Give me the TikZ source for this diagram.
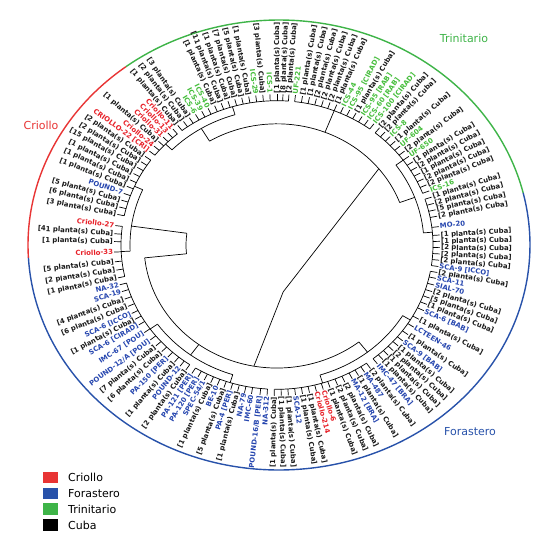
\documentclass[tikz,border=0pt]{standalone}
\usepackage{fontspec}
\newfontfamily\lblfont{DejaVu Sans}
\newfontfamily\legfont{DejaVu Sans}
\definecolor{labk}{RGB}{25,25,25}
\definecolor{labr}{RGB}{232,32,40}
\definecolor{labb}{RGB}{38,70,175}
\definecolor{labg}{RGB}{70,190,60}
\definecolor{arcr}{RGB}{232,52,52}
\definecolor{arcb}{RGB}{40,82,170}
\definecolor{arcg}{RGB}{62,180,72}
\begin{document}
\begin{tikzpicture}[x=1pt,y=1pt,
  lbl/.style={font=\lblfont\bfseries\fontsize{6.9}{7}\selectfont, inner sep=0pt},
  tree/.style={line width=0.7pt, black},
  ring/.style={line width=1.4pt},
  legtext/.style={font=\legfont\fontsize{11}{12}\selectfont, anchor=west, inner sep=0pt},
  legsq/.style={minimum width=15pt, minimum height=11.5pt, inner sep=0pt},
  grouplbl/.style={font=\legfont\fontsize{11}{12}\selectfont, inner sep=0pt}]
\useasboundingbox (0,0) rectangle (537,539);
\fill[white] (0,0) rectangle (537,539);
\def\cx{277}\def\cy{294}\def\q{0.925}
\def\ox{279}\def\oy{294}
% outer group arcs
\draw[ring,arcg] ({\ox+251*cos(13.4)},{\oy+225*sin(13.4)}) arc[start angle=13.4, end angle=127.6, x radius=251, y radius=225];
\draw[ring,arcr] ({\ox+251*cos(127.6)},{\oy+225*sin(127.6)}) arc[start angle=127.6, end angle=183.3, x radius=251, y radius=225];
\draw[ring,arcb] ({\ox+251*cos(183.3)},{\oy+225*sin(183.3)}) arc[start angle=183.3, end angle=373.4, x radius=251, y radius=225];
\node[grouplbl,text=arcr] (gcri) at (41,414) {Criollo};
\node[grouplbl,text=arcg] (gtri) at (464,501) {Trinitario};
\node[grouplbl,text=arcb] (gfor) at (470,107) {Forastero};
% labels
\foreach \a/\c/\t [count=\i] in {
90/k/[1 planta(s) Cuba],
92.5/g/ICS-1,
95/k/[3 planta(s) Cuba],
97.5/g/ICS-29,
100/k/[1 planta(s) Cuba],
102.5/k/[5 planta(s) Cuba],
105/k/[7 planta(s) Cuba],
107.5/k/[1 planta(s) Cuba],
110/k/[11 planta(s) Cuba],
112.5/k/[1 planta(s) Cuba],
115/g/ICS-40,
117.5/g/ICS-39,
120/g/ICS-6,
122.5/k/[3 planta(s) Cuba],
125/k/[2 planta(s) Cuba],
127.5/k/[1 planta(s) Cuba],
129.7/r/Criollo-11,
132/r/Criollo-13,
134.3/r/Criollo-31,
136.6/k/[1 planta(s) Cuba],
139/r/Criollo-24,
141.5/r/CRIOLLO-22 [CRI],
144/k/[2 planta(s) Cuba],
146.5/k/[2 planta(s) Cuba],
149/k/[15 planta(s) Cuba],
151.7/k/[1 planta(s) Cuba],
154.4/k/[1 planta(s) Cuba],
157.1/k/[1 planta(s) Cuba],
160/b/POUND-7,
162.7/k/[5 planta(s) Cuba],
165.4/k/[6 planta(s) Cuba],
168.3/k/[3 planta(s) Cuba],
172.6/r/Criollo-27,
175.7/k/[41 planta(s) Cuba],
178.7/k/[1 planta(s) Cuba],
182.7/r/Criollo-33,
186.4/k/[5 planta(s) Cuba],
189.6/k/[2 planta(s) Cuba],
192.6/k/[1 planta(s) Cuba],
195.3/b/NA-32,
198/b/SCA-19,
201/k/[4 planta(s) Cuba],
204/k/[6 planta(s) Cuba],
207/b/SCA-6 [ICCO],
209.5/k/[1 planta(s) Cuba],
212/b/SCA-6 [CIRAD],
215.5/b/IMC-67 [POU],
219/b/{POUND-12/A [POU]},
222/k/[7 planta(s) Cuba],
225/k/[6 planta(s) Cuba],
228/b/PA-150 [PER],
231/k/[1 planta(s) Cuba],
233.5/b/POUND-12,
236/k/[2 planta(s) Cuba],
238.5/b/PA-121 [PER],
241/b/PA-120 [PER],
243.5/b/{SPEC-54/1},
246/k/[1 planta(s) Cuba],
248.5/b/BE-10,
251/k/[5 planta(s) Cuba],
253.5/b/PA-4 [PER],
256/k/[1 planta(s) Cuba],
258.5/b/NA-79,
261/b/IMC-60,
264/b/{POUND-16/B [PER]},
266.5/b/NA-312,
269/k/[1 planta(s) Cuba],
271.5/k/[1 planta(s) Cuba],
274/k/[1 planta(s) Cuba],
276.5/b/SCA-12,
279/k/[1 planta(s) Cuba],
281.5/k/[1 planta(s) Cuba],
284/r/Criollo-214,
286.5/r/Criollo-6,
289/k/[1 planta(s) Cuba],
291.8/k/[2 planta(s) Cuba],
294.6/k/[2 planta(s) Cuba],
297.5/b/MA-12 [BRA],
300/k/[1 planta(s) Cuba],
302.5/b/MA-487,
305/k/[2 planta(s) Cuba],
308/b/IMC-47 [BRA],
310.5/k/[1 planta(s) Cuba],
313/k/[1 planta(s) Cuba],
315.5/k/[2 planta(s) Cuba],
318/k/[1 planta(s) Cuba],
320.5/b/SCA-9 [BAB],
323.5/k/[1 planta(s) Cuba],
327/b/LCTEEN-46,
330.5/k/[1 planta(s) Cuba],
334.2/b/SCA-6 [BAB],
336.8/k/[1 planta(s) Cuba],
339.4/k/[5 planta(s) Cuba],
342/k/[2 planta(s) Cuba],
344.6/b/SIAL-70,
347.2/b/SCA-11,
349.5/k/[2 planta(s) Cuba],
351.8/b/SCA-9 [ICCO],
354.2/k/[2 planta(s) Cuba],
356.6/k/[2 planta(s) Cuba],
359/k/[2 planta(s) Cuba],
1.4/k/[1 planta(s) Cuba],
3.8/k/[1 planta(s) Cuba],
7/b/MO-20,
11/k/[2 planta(s) Cuba],
13.5/k/[5 planta(s) Cuba],
16/k/[2 planta(s) Cuba],
18.5/k/[1 planta(s) Cuba],
21/g/ICS-16,
23.5/k/[2 planta(s) Cuba],
26/k/[2 planta(s) Cuba],
28.5/k/[1 planta(s) Cuba],
31/k/[2 planta(s) Cuba],
33.5/k/[1 planta(s) Cuba],
36/g/UF-650,
38.5/k/[2 planta(s) Cuba],
41/g/UF-604,
43.5/k/[1 planta(s) Cuba],
46/g/ICS-8,
48.5/k/[2 planta(s) Cuba],
51/k/[2 planta(s) Cuba],
53.5/g/ICS-100 [CIRAD],
56/g/ICS-60 [RAB],
58.5/g/ICS-95 [RAB],
61/k/[1 planta(s) Cuba],
63.5/g/ICS-95 [CIRAD],
66/g/ICS-44,
68.5/k/[1 planta(s) Cuba],
71/k/[2 planta(s) Cuba],
73.5/k/[2 planta(s) Cuba],
76/k/[2 planta(s) Cuba],
78.5/k/[1 planta(s) Cuba],
81/k/[1 planta(s) Cuba],
83.5/g/UF-221,
85.8/k/[2 planta(s) Cuba],
87.9/k/[8 planta(s) Cuba]}{
  \pgfmathsetmacro{\ph}{atan2(\q*sin(\a),cos(\a))}
  \pgfmathsetmacro{\px}{\cx+164*cos(\a)}
  \pgfmathsetmacro{\py}{\cy+164*\q*sin(\a)}
  \pgfmathtruncatemacro{\flip}{cos(\a)<-0.001 ? 1 : 0}
  \pgfmathsetmacro{\rotf}{\ph+180}
  \ifnum\flip=1
    \node[lbl,text=lab\c,rotate=\rotf,anchor=mid east] (L\i) at (\px,\py) {\t};
  \else
    \node[lbl,text=lab\c,rotate=\ph,anchor=mid west] (L\i) at (\px,\py) {\t};
  \fi
  \draw[tree] ({\cx+156*cos(\a)},{\cy+156*\q*sin(\a)}) -- ({\cx+163*cos(\a)},{\cy+163*\q*sin(\a)});
}
% tree (arcs and radial links)
\newcommand{\darc}[3]{\draw[tree] ({\cx+#1*cos(#2)},{\cy+#1*\q*sin(#2)}) arc[start angle=#2, end angle=#3, x radius=#1, y radius={#1*\q}];}
\newcommand{\drad}[3]{\draw[tree] ({\cx+#1*cos(#3)},{\cy+#1*\q*sin(#3)}) -- ({\cx+#2*cos(#3)},{\cy+#2*\q*sin(#3)});}
% leaf clusters
\darc{156}{85.8}{127.5}  \drad{147}{156}{106.6}
\darc{156}{129.7}{141.5} \drad{147}{156}{135.6}
\darc{156}{144}{168.3}   \drad{147}{156}{156}
\darc{156}{172.6}{192.6} \drad{147}{156}{182.6}
\darc{156}{195.3}{236}   \drad{147}{156}{215.6}
\darc{156}{238.5}{266.5} \drad{147}{156}{252.5}
\darc{156}{269}{305}     \drad{147}{156}{287}
\darc{156}{308}{349.5}   \drad{147}{156}{328.7}
\darc{156}{351.8}{378.5} \drad{147}{156}{5.1}
\darc{156}{21}{51}       \drad{147}{156}{36}
\darc{156}{53.5}{83.5}   \drad{131}{156}{68.5}
% upper level
\darc{147}{106.6}{135.6} \drad{131}{147}{121}
\darc{147}{156}{182.6}   \drad{91}{147}{172}
\darc{147}{215.6}{252.5} \drad{133}{147}{234}
\darc{147}{287}{328.7}   \drad{133}{147}{308}
\darc{147}{5.1}{36}      \drad{131}{147}{20.5}
% main groups
\darc{131}{20.5}{121}
\darc{133}{186}{308}
\darc{91}{172}{186}      \drad{91}{133}{186}
% root
\coordinate (R) at ({\cx+51*cos(-83)},{\cy+51*\q*sin(-83)});
\coordinate (A) at ({\cx+131*cos(39)},{\cy+131*\q*sin(39)});
\coordinate (B) at ({\cx+133*cos(260)},{\cy+133*\q*sin(260)});
\draw[tree] (A) -- (R) -- (B);
% legend
\node[legsq,fill=arcr] (sq1) at (50.5,61.5) {};
\node[legsq,fill=arcb] (sq2) at (50.5,45.5) {};
\node[legsq,fill=arcg] (sq3) at (50.5,30) {};
\node[legsq,fill=black] (sq4) at (50.5,14) {};
\node[legtext] (t1) at (68,61.5) {Criollo};
\node[legtext] (t2) at (68,45.5) {Forastero};
\node[legtext] (t3) at (68,30) {Trinitario};
\node[legtext] (t4) at (68,14) {Cuba};
\end{tikzpicture}
\end{document}
